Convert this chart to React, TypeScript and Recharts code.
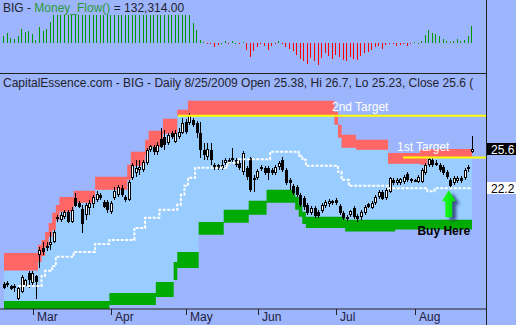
import React from 'react';
import { ComposedChart, Area, Bar, Line, XAxis, YAxis, ReferenceLine, ReferenceDot } from 'recharts';

// ---- data (daily, 2009-02-18 .. 2009-08-25) ----
const openP = [14.15,14.07,13.98,13.98,12.9,13.47,13.98,15.09,14.24,14.83,16.61,17.21,17.21,17.46,17.72,19.7,19.59,19.85,20.27,19.42,21.46,21.0,20.52,20.02,20.61,20.95,21.29,21.72,21.12,21.12,20.27,21.46,21.72,22.31,21.55,21.29,23.16,23.58,23.84,23.84,24.44,25.54,25.79,25.37,26.47,26.64,26.13,26.98,26.22,26.64,26.98,27.92,27.83,28.09,27.83,26.98,25.54,24.95,25.54,24.27,24.27,24.01,24.44,24.69,24.86,24.69,24.44,23.67,24.01,24.86,23.16,23.16,24.1,24.01,24.01,23.84,23.58,24.1,24.69,23.84,22.99,22.48,22.4,21.72,21.46,20.86,20.18,20.61,20.27,20.35,20.78,20.95,21.2,21.29,20.78,20.18,19.85,20.02,20.61,19.93,19.85,20.18,20.95,20.61,21.04,21.55,21.97,21.46,21.97,22.99,22.73,22.73,22.82,23.5,23.08,22.99,22.82,22.82,23.58,24.27,24.69,24.44,24.27,24.1,23.67,22.99,22.73,22.9,23.16,23.16,24.1,25.38];
const highP = [14.32,14.4,14.1,14.15,13.9,14.9,14.6,15.25,15.25,14.95,17.3,17.72,17.7,18.57,18.74,20.0,20.27,20.4,20.44,20.7,21.9,21.2,20.85,21.04,21.29,21.7,22.06,21.9,21.29,21.29,21.2,22.4,22.57,22.57,21.72,22.99,24.44,24.69,24.69,24.69,25.71,25.96,25.96,26.22,27.41,27.24,26.98,27.15,27.24,27.41,28.26,28.17,28.68,28.26,28.0,27.92,26.13,26.13,26.13,24.44,24.35,24.69,24.86,24.86,25.71,24.86,24.69,25.46,24.18,24.95,23.42,23.93,24.27,24.18,24.18,24.01,24.27,24.6,24.95,24.01,23.16,22.65,22.57,21.89,21.63,21.04,20.78,20.78,20.44,21.04,21.29,21.37,21.29,21.46,20.95,20.35,20.02,20.44,20.78,20.1,20.44,20.86,21.04,21.2,21.72,22.14,22.14,22.31,23.25,23.16,23.16,23.16,23.42,23.67,23.16,23.08,23.42,24.01,24.44,24.86,24.86,24.69,24.44,24.27,23.84,23.16,23.33,23.33,23.33,24.01,24.27,26.7];
const lowP = [13.75,13.9,13.6,13.47,12.8,13.4,13.85,13.81,14.1,12.9,15.51,16.61,16.95,17.04,17.6,19.4,19.42,19.7,19.35,19.3,20.7,20.6,18.5,19.59,20.02,20.61,21.12,21.3,20.61,20.2,20.1,21.29,21.55,21.55,21.12,21.2,22.99,23.25,23.42,23.67,24.27,25.37,25.12,25.12,25.7,25.54,25.96,26.47,26.13,26.47,26.9,26.9,27.66,27.49,26.56,24.86,24.69,24.69,24.27,23.84,23.84,23.84,24.27,24.35,24.52,24.1,23.84,23.42,22.99,21.97,21.97,22.99,23.76,23.42,22.99,23.42,23.42,23.84,23.67,22.57,22.14,21.72,21.55,20.7,20.44,20.02,20.02,19.76,19.76,20.18,20.61,20.7,20.86,20.86,20.02,19.59,19.5,19.85,19.68,19.42,19.59,20.02,20.61,20.52,20.86,21.37,21.29,21.29,21.89,22.57,22.57,22.57,22.65,22.82,22.73,22.82,22.73,22.73,23.42,24.1,24.1,24.18,23.67,23.42,23.08,22.31,22.57,22.73,22.73,22.99,23.67,25.23];
const closeP = [13.81,14.24,13.72,13.81,13.81,14.75,14.49,14.49,15.09,14.32,17.04,16.87,17.38,17.72,18.57,19.8,20.02,20.27,19.42,20.44,20.78,20.7,19.25,20.85,21.04,21.55,21.8,21.46,20.7,20.44,21.04,22.06,22.4,21.72,21.29,22.82,24.27,24.01,24.1,24.52,25.54,25.88,25.37,25.96,25.79,25.96,26.81,26.64,26.98,27.07,27.83,27.07,28.51,27.66,26.98,25.54,25.12,25.62,24.69,24.01,24.01,24.27,24.69,24.44,24.69,24.27,24.01,25.29,23.25,22.14,22.99,23.76,23.93,23.58,23.58,23.58,24.1,24.44,23.84,22.73,22.73,21.89,21.72,20.86,20.7,20.18,20.61,19.93,19.93,20.86,21.12,21.2,21.04,21.04,20.18,19.76,19.68,20.35,19.85,19.68,20.27,20.69,20.69,21.04,21.55,21.97,21.37,22.14,23.16,22.73,22.99,23.08,23.25,22.99,22.9,22.95,23.25,23.84,24.27,24.78,24.27,24.27,23.84,23.58,23.25,22.48,23.16,23.16,22.9,23.84,23.93,25.6];

// upper (red) channel
const redHi = [16.78,16.78,16.78,16.78,16.78,16.78,16.78,16.78,16.78,16.78,17.46,17.89,18.57,19.33,20.19,20.86,21.54,21.54,21.54,21.54,22.06,22.06,22.06,22.06,22.06,22.06,23.25,23.25,23.25,23.25,23.25,23.25,23.25,23.25,23.25,24.27,25.37,25.37,25.37,25.37,26.39,27.15,27.15,27.15,27.15,28.18,28.18,28.18,28.18,28.94,28.94,28.94,29.7,29.7,29.7,29.7,29.7,29.7,29.7,29.7,29.7,29.7,29.7,29.7,29.7,29.7,29.7,29.7,29.7,29.7,29.7,29.7,29.7,29.7,29.7,29.7,29.7,29.7,29.7,29.7,29.7,29.7,29.7,29.7,29.7,29.7,29.7,29.7,29.7,29.7,29.7,29.7,29.7,28.77,27.67,26.82,26.82,26.82,26.82,26.39,26.39,26.39,26.39,26.39,26.39,26.39,26.39,26.39,25.26,25.26,25.26,25.26,25.26,25.26,25.26,25.26,25.26,25.54,25.54,25.6,25.6,25.6,25.6,25.6,25.6,25.6,25.6,25.6,25.6,25.6,25.6,25.6];
const redLo = [15.3,15.3,15.3,15.3,15.3,15.3,15.3,15.3,15.3,15.3,16.02,16.53,17.29,18.15,18.74,19.59,20.27,20.27,20.27,20.27,21.04,21.04,21.04,21.04,21.04,21.04,22.14,22.14,22.14,22.14,22.14,22.14,22.14,22.14,22.14,22.99,24.18,24.18,24.18,24.18,25.12,25.8,25.8,25.8,25.8,26.9,26.9,26.9,26.9,28.43,28.43,28.43,28.43,28.43,28.43,28.43,28.43,28.43,28.43,28.43,28.43,28.43,28.43,28.43,28.43,28.43,28.43,28.43,28.43,28.43,28.43,28.43,28.43,28.43,28.43,28.43,28.43,28.43,28.43,28.43,28.43,28.43,28.43,28.43,28.43,28.43,28.43,28.43,28.43,28.43,28.43,28.43,28.43,27.67,26.56,25.71,25.71,25.71,25.71,25.54,25.54,25.54,25.54,25.54,25.54,25.54,25.54,25.54,24.35,24.35,24.35,24.35,24.35,24.35,24.35,24.35,24.35,24.27,24.27,24.89,24.89,24.89,24.89,24.89,24.89,24.89,24.89,24.89,24.89,24.89,24.89,24.89];
// lower (green) channel
const greenHi = [12.71,12.71,12.71,12.71,12.71,12.71,12.71,12.71,12.71,12.71,12.71,12.71,12.71,12.71,12.71,12.71,12.71,12.71,12.71,12.71,12.71,12.71,12.71,12.71,12.71,12.71,12.71,12.71,12.71,12.71,13.38,13.38,13.38,13.38,13.38,13.38,13.38,13.38,13.38,13.38,13.38,13.38,13.38,14.32,14.32,14.32,14.32,14.32,16.02,16.87,16.87,16.87,16.87,16.87,16.87,19.42,19.42,19.42,19.42,19.42,19.42,19.42,20.44,20.44,20.44,20.44,20.44,20.44,20.44,21.21,21.21,21.21,21.21,21.21,22.14,22.14,22.14,22.14,22.14,22.14,22.14,22.14,21.55,20.86,20.27,19.85,19.85,19.85,19.85,19.85,19.85,19.85,19.85,19.85,19.85,19.85,19.59,19.59,19.59,19.59,19.59,19.59,19.59,19.59,19.59,19.59,19.59,19.59,19.59,19.59,19.59,19.59,19.59,19.59,19.59,19.59,19.59,19.59,19.59,19.59,19.59,19.59,19.59,19.59,19.59,19.59,19.59,19.59,19.59,19.59,19.59,19.59];
const greenLo = [11.9,11.9,11.9,11.9,11.9,11.9,11.9,11.9,11.9,11.9,11.9,11.9,11.9,11.9,11.9,11.9,11.9,11.9,11.9,11.9,11.9,11.9,11.9,11.9,11.9,11.9,11.9,11.9,11.9,11.9,12.37,12.37,12.37,12.37,12.37,12.37,12.37,12.37,12.37,12.37,12.37,12.37,12.37,13.04,13.04,13.04,13.04,13.04,14.49,15.51,15.51,15.51,15.51,15.51,15.51,18.32,18.32,18.32,18.32,18.32,18.32,18.32,19.34,19.34,19.34,19.34,19.34,19.34,19.34,20.02,20.02,20.02,20.02,20.02,21.04,21.04,21.04,21.04,21.04,21.04,21.04,21.04,20.44,19.85,19.25,18.91,18.91,18.91,18.91,18.91,18.91,18.91,18.91,18.91,18.91,18.91,18.61,18.61,18.61,18.61,18.61,18.61,18.61,18.61,18.61,18.61,18.61,18.61,18.61,18.61,18.78,18.78,18.78,18.78,18.78,18.78,18.78,18.78,18.78,18.78,18.78,18.78,18.78,18.78,18.78,18.78,18.78,18.78,18.78,18.78,18.78,18.78];
// white mid line
const midLine = [null,null,null,null,13.98,13.98,13.98,13.98,13.98,13.98,13.98,14.83,15.26,15.26,15.68,16.45,16.45,16.45,16.45,16.45,16.87,16.87,16.87,16.87,16.87,16.87,17.55,17.55,17.55,17.55,17.89,17.89,17.89,17.89,17.89,17.89,17.89,18.91,18.91,18.91,19.76,19.76,19.76,19.76,20.44,20.44,20.44,20.44,20.44,20.87,21.72,22.48,23.16,23.16,24.01,24.01,24.01,24.01,24.01,24.01,24.01,24.01,24.01,24.44,24.44,24.44,24.73,24.73,24.73,24.73,24.73,24.73,24.73,24.73,24.73,25.37,25.37,25.37,25.37,25.37,25.37,25.37,25.37,25.03,24.69,24.18,24.18,24.18,24.18,24.18,24.18,24.18,24.18,24.18,23.67,22.99,22.99,22.48,22.48,22.48,22.48,22.48,22.48,22.48,22.48,22.48,22.48,22.48,22.27,22.27,22.27,22.27,22.27,22.27,22.27,22.27,22.27,22.27,22.27,22.02,22.02,22.27,22.27,22.27,22.27,22.27,22.27,22.27,22.27,22.27,22.27,22.27];
// money flow (thousands)
const moneyFlow = [52,78,39,31,57,109,86,96,70,21,124,91,111,161,220,220,220,220,220,220,220,220,220,220,220,220,220,220,220,220,220,220,220,220,220,220,220,220,220,220,220,220,220,220,220,220,220,220,220,220,220,220,220,156,101,23,4,-5,-8,-31,-12,1,16,-2,18,2,-4,8,-54,-109,-62,-31,-8,-26,-52,-26,-4,16,-5,-31,-47,-65,-91,-124,-142,-163,-117,-142,-173,-117,-78,-103,-122,-91,-109,-130,-138,-109,-124,-135,-103,-78,-72,-52,-31,-26,-47,-13,-5,-4,-26,-13,-4,-26,-4,8,1,18,65,103,78,70,52,31,18,5,13,33,13,26,57,132.314];

const monthTicks = [8, 30, 51, 71, 93, 115];
const monthLabels = ['Mar', 'Apr', 'May', 'Jun', 'Jul', 'Aug'];
const target2 = 28.43;
const target2Start = 48.7;
const target1 = 24.89;
const target1Start = 111.7;
const buySignal = { i: 124.5, price: 22.1 };

const X_DOMAIN = [-1.12, 134.92];
const Y_DOMAIN = [12.02, 31.98];
const MF_DOMAIN = [-233.5, 334.6];

const BG = '#9db5fc';
const FONT = '"Liberation Sans", Arial, sans-serif';

const rows = openP.map((o, i) => ({
  i,
  open: o,
  high: highP[i],
  low: lowP[i],
  close: closeP[i],
  hl: [lowP[i], highP[i]],
  red: [redLo[i], redHi[i]],
  blue: [greenHi[i], redLo[i]],
  green: [greenLo[i], greenHi[i]],
  mid: midLine[i],
  mf: moneyFlow[i],
}));

const last = rows[rows.length - 1];
const lastMid = midLine[midLine.length - 1] as number;

const Candle = (props: any) => {
  const { x, width, y, height, payload } = props;
  if (!payload) return null;
  const cx = Math.round(x + width / 2);
  const top = Math.min(y, y + height);
  const h = Math.abs(height);
  const { open, close, high, low } = payload;
  const k = h / (high - low || 1);
  const py = (v: number) => top + (high - v) * k;
  const yo = py(open);
  const yc = py(close);
  const up = close >= open;
  const bt = Math.round(Math.min(yo, yc));
  const bb = Math.round(Math.max(yo, yc));
  return (
    <g>
      <line x1={cx + 0.5} x2={cx + 0.5} y1={Math.round(top)} y2={Math.round(top + h)} stroke="#000" strokeWidth={1} />
      {up ? (
        <rect x={cx - 0.5} y={bt + 0.5} width={2} height={Math.max(bb - bt - 1, 1)} fill="#fff" stroke="#000" strokeWidth={1} />
      ) : (
        <rect x={cx - 1} y={bt} width={3} height={Math.max(bb - bt, 2)} fill="#000" />
      )}
    </g>
  );
};

const MfBar = (props: any) => {
  const { x, width, y, height, payload } = props;
  if (!payload) return null;
  const cx = Math.floor(x + width / 2);
  const t = Math.round(Math.min(y, y + height));
  const b = Math.round(Math.max(y, y + height));
  return <rect x={cx} y={t} width={1} height={Math.max(b - t, 1)} fill={payload.mf >= 0 ? '#009a00' : '#ff0000'} />;
};

const MonthTick = (props: any) => {
  const { x, y, payload } = props;
  const idx = monthTicks.indexOf(payload.value);
  const tx = Math.round(x) + 0.5;
  return (
    <g>
      <line x1={tx} x2={tx} y1={y} y2={y + 6} stroke="#222" strokeWidth={1} />
      <text x={tx + 3.5} y={y + 12} fontSize={12} fontFamily={FONT} fill="#1e2040">
        {monthLabels[idx]}
      </text>
    </g>
  );
};

const PriceTick = (props: any) => {
  const { y, payload } = props;
  const v = payload.value;
  const isClose = Math.abs(v - last.close) < 1e-6;
  const label = (Math.floor(v * 10 + 1e-6) / 10).toFixed(1);
  return (
    <g>
      <rect x={487} y={Math.round(y) - 6} width={29} height={12} fill={isClose ? '#000' : '#fff'} />
      <text x={491} y={Math.round(y) + 4.5} fontSize={12} fontFamily={FONT} fill={isClose ? '#fff' : '#000'}>
        {label}
      </text>
    </g>
  );
};

const TargetLabel = (text: string, dy: number) => (props: any) => (
  <text x={props.cx} y={props.cy + dy} fontSize={12} fontFamily={FONT} fill="#ffffff">
    {text}
  </text>
);

const BuyArrow = (props: any) => {
  const { cx, cy } = props;
  const path = `M ${cx} ${cy} L ${cx + 7} ${cy + 11} L ${cx + 3.5} ${cy + 11} L ${cx + 3.5} ${cy + 27} L ${cx - 3.5} ${cy + 27} L ${cx - 3.5} ${cy + 11} L ${cx - 7} ${cy + 11} Z`;
  return (
    <g>
      <defs>
        <filter id="arrowShadow" x="-50%" y="-50%" width="200%" height="200%">
          <feGaussianBlur stdDeviation="1.5" />
        </filter>
        <linearGradient id="arrowFill" x1="0" y1="0" x2="1" y2="0">
          <stop offset="0" stopColor="#22ff22" />
          <stop offset="1" stopColor="#00dd00" />
        </linearGradient>
      </defs>
      <path d={path} transform="translate(4,3)" fill="#1e2a6a" opacity={0.75} filter="url(#arrowShadow)" />
      <path d={path} fill="url(#arrowFill)" />
      <text x={cx - 5} y={cy + 45} textAnchor="middle" fontSize={12} fontWeight="bold" fontFamily={FONT} fill="#000">
        Buy Here
      </text>
    </g>
  );
};

export default function App() {
  const mfText = (last.mf * 1000).toLocaleString('en-US', { minimumFractionDigits: 2, maximumFractionDigits: 2 });
  const subtitle = `CapitalEssence.com - BIG - Daily 8/25/2009 Open ${last.open}, Hi ${last.high}, Lo ${last.low}, Close ${last.close} (`;
  return (
    <div style={{ position: 'fixed', left: 0, top: 0, width: 516, height: 325, background: BG, overflow: 'hidden' }}>
      <div style={{ position: 'absolute', left: 0, top: 0 }}>
        <ComposedChart width={516} height={73} data={rows} margin={{ top: 0, right: 30, bottom: 0, left: 0 }}>
          <XAxis type="number" dataKey="i" domain={X_DOMAIN} hide allowDataOverflow />
          <YAxis domain={MF_DOMAIN} hide allowDataOverflow />
          <Bar dataKey="mf" barSize={1} shape={<MfBar />} isAnimationActive={false} />
        </ComposedChart>
      </div>
      <div style={{ position: 'absolute', left: 0, top: 74 }}>
        <ComposedChart width={516} height={251} data={rows} margin={{ top: 0, right: 0, bottom: 0, left: 0 }}>
          <XAxis
            type="number"
            dataKey="i"
            domain={X_DOMAIN}
            allowDataOverflow
            ticks={monthTicks}
            tick={<MonthTick />}
            tickLine={false}
            tickSize={0}
            tickMargin={0}
            height={16}
            axisLine={{ stroke: '#222' }}
            interval={0}
          />
          <YAxis
            orientation="right"
            domain={Y_DOMAIN}
            allowDataOverflow
            width={30}
            ticks={[lastMid, last.close]}
            tick={<PriceTick />}
            tickLine={false}
            axisLine={false}
            tickSize={0}
            tickMargin={0}
            interval={0}
          />
          <Area type="step" dataKey="blue" stroke="none" fill="#99ccff" fillOpacity={1} isAnimationActive={false} />
          <Area type="step" dataKey="red" stroke="none" fill="#ff6666" fillOpacity={1} isAnimationActive={false} />
          <Area type="step" dataKey="green" stroke="none" fill="#00aa00" fillOpacity={1} isAnimationActive={false} />
          <Line type="step" dataKey="mid" stroke="#ffffff" strokeWidth={2} strokeDasharray="3 1.5" dot={false} isAnimationActive={false} />
          <ReferenceLine segment={[{ x: target2Start, y: target2 }, { x: X_DOMAIN[1], y: target2 }]} stroke="#ffff00" strokeWidth={2} ifOverflow="visible" />
          <ReferenceLine segment={[{ x: target1Start, y: target1 }, { x: X_DOMAIN[1], y: target1 }]} stroke="#ffff00" strokeWidth={2} ifOverflow="visible" />
          <Bar dataKey="hl" barSize={3} shape={<Candle />} isAnimationActive={false} />
          <ReferenceDot x={91.8} y={target2} r={0} shape={TargetLabel('2nd Target', -5)} />
          <ReferenceDot x={110} y={target1} r={0} shape={TargetLabel('1st Target', -6)} />
          <ReferenceDot x={buySignal.i} y={buySignal.price} r={0} shape={<BuyArrow />} />
        </ComposedChart>
      </div>
      <svg width={516} height={325} style={{ position: 'absolute', left: 0, top: 0, pointerEvents: 'none' }}>
        <text x={3} y={12} fontSize={12} fontFamily={FONT} fill="#22222e">
          BIG - <tspan fill="#2b9a3b">Money_Flow()</tspan> = {mfText}
        </text>
        <text x={3} y={87} fontSize={12} fontFamily={FONT} fill="#22222e">
          {subtitle}
        </text>
      </svg>
      <div style={{ position: 'absolute', left: 0, top: 73, width: 486, height: 1, background: '#222' }} />
      <div style={{ position: 'absolute', left: 486, top: 0, width: 1, height: 325, background: '#222' }} />
    </div>
  );
}
